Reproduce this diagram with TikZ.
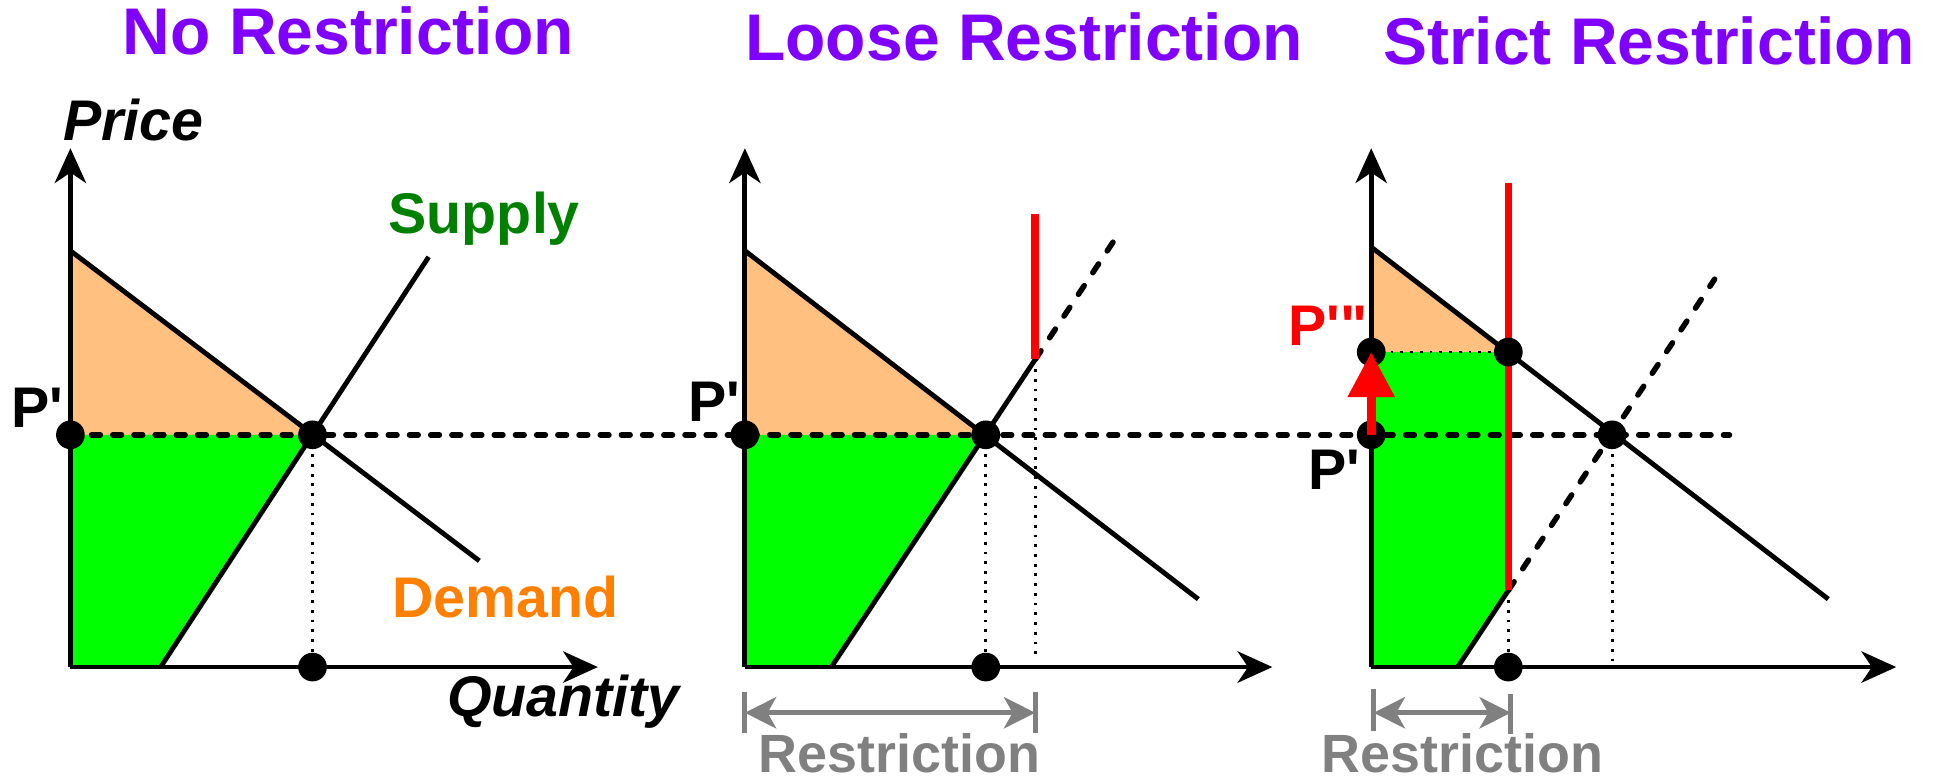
\documentclass[tikz,border=0pt]{standalone}
\usepackage{fontspec}
\setmainfont{Liberation Sans}
\usetikzlibrary{arrows.meta,positioning,calc}
\definecolor{titlepurple}{RGB}{128,0,255}
\definecolor{supplygreen}{RGB}{0,128,0}
\definecolor{demandorange}{RGB}{255,128,0}
\definecolor{consorange}{RGB}{255,192,128}
\definecolor{prodgreen}{RGB}{0,255,0}
\definecolor{restrictgray}{RGB}{128,128,128}

\begin{document}
\begin{tikzpicture}[
        x=0.0125cm, y=-0.0125cm,
        title/.style={text=titlepurple, font=\fontsize{19}{22}\selectfont\bfseries},
        axislabel/.style={font=\fontsize{16.5}{19}\selectfont\bfseries\itshape},
        curvelabel/.style={font=\fontsize{16.5}{19}\selectfont\bfseries},
        plabel/.style={font=\fontsize{16.5}{19}\selectfont\bfseries},
        restrlabel/.style={text=restrictgray, font=\fontsize{15.5}{18}\selectfont\bfseries},
        axisline/.style={line width=1.4pt, -{Stealth[length=10pt, width=9pt, inset=3pt]}},
        curve/.style={line width=1.4pt},
        dashcurve/.style={curve, line width=1.6pt, dash pattern=on 3pt off 4.5pt, line cap=round},
        priceline/.style={line width=1.6pt, dash pattern=on 2.5pt off 3.6pt, line cap=round},
        guide/.style={line width=0.8pt, dotted},
        limit/.style={line width=2.2pt, red},
        dot/.style={circle, fill=black, inner sep=0pt, minimum size=0.29cm},
        consfill/.style={fill=consorange},
        prodfill/.style={fill=prodgreen},
        bracket/.style={line width=1.4pt, restrictgray},
        spanarrow/.style={bracket, {Stealth[length=9pt, width=9pt, inset=2.5pt]}-{Stealth[length=9pt, width=9pt, inset=2.5pt]}},
        raise/.style={red, line width=2.6pt, -{Triangle[length=13pt, width=13pt]}}
    ]

        \useasboundingbox (0,0) rectangle (1568,632);

% --- Titles ---
        \node[title] (title1) at (282,25) {No Restriction};
        \node[title] (title2) at (829,30) {Loose Restriction};
        \node[title] (title3) at (1335,33) {Strict Restriction};

% --- Points (no restriction) ---
        \coordinate (o1) at (57,540);
        \coordinate (ytop1) at (57,120);
        \coordinate (xend1) at (484,540);
        \coordinate (dtop1) at (57,203);
        \coordinate (dend1) at (388,454);
        \coordinate (sbot1) at (130,540);
        \coordinate (send1) at (347,208);
        \coordinate (eq1) at (253,352);
        \coordinate (pp1) at (57,352);
        \coordinate (qq1) at (253,540);

% --- Points (loose restriction) ---
        \coordinate (o2) at (603,540);
        \coordinate (ytop2) at (603,120);
        \coordinate (xend2) at (1030,540);
        \coordinate (dtop2) at (603,203);
        \coordinate (dend2) at (970,485);
        \coordinate (sbot2) at (673,540);
        \coordinate (skink2) at (838,291);
        \coordinate (send2) at (905,190);
        \coordinate (limtop2) at (838,173);
        \coordinate (limbot2) at (838,532);
        \coordinate (eq2) at (798,352);
        \coordinate (pp2) at (603,352);
        \coordinate (qq2) at (798,540);

% --- Points (strict restriction) ---
        \coordinate (o3) at (1110,540);
        \coordinate (ytop3) at (1110,120);
        \coordinate (xend3) at (1535,540);
        \coordinate (dtop3) at (1110,200);
        \coordinate (dend3) at (1480,485);
        \coordinate (dq3) at (1221,285);
        \coordinate (sbot3) at (1180,540);
        \coordinate (skink3) at (1221,478);
        \coordinate (send3) at (1388,226);
        \coordinate (limtop3) at (1221,148);
        \coordinate (eq3) at (1305,352);
        \coordinate (pp3) at (1110,352);
        \coordinate (ppp3) at (1110,285);
        \coordinate (qq3) at (1221,540);
        \coordinate (qe3) at (1305,540);
        \coordinate (pend) at (1400,352);

% --- Surplus areas ---
        \fill[consfill] (dtop1) -- (eq1) -- (pp1) -- cycle;
        \fill[prodfill] (pp1) -- (eq1) -- (sbot1) -- (o1) -- cycle;
        \fill[consfill] (dtop2) -- (eq2) -- (pp2) -- cycle;
        \fill[prodfill] (pp2) -- (eq2) -- (sbot2) -- (o2) -- cycle;
        \fill[consfill] (dtop3) -- (dq3) -- (ppp3) -- cycle;
        \fill[prodfill] (ppp3) -- (dq3) -- (skink3) -- (sbot3) -- (o3) -- cycle;

% --- Guides ---
        \draw[priceline] (pp1) -- (pend);
        \draw[guide] (eq1) -- (qq1);
        \draw[guide] (eq2) -- (qq2);
        \draw[guide] (skink2) -- (limbot2);
        \draw[guide] (ppp3) -- (dq3);
        \draw[guide] (skink3) -- (qq3);
        \draw[guide] (eq3) -- (qe3);

% --- Curves ---
        \draw[curve] (dtop1) -- (dend1);
        \draw[curve] (sbot1) -- (send1);
        \draw[curve] (dtop2) -- (dend2);
        \draw[curve] (sbot2) -- (skink2);
        \draw[dashcurve] (skink2) -- (send2);
        \draw[curve] (dtop3) -- (dend3);
        \draw[curve] (sbot3) -- (skink3);
        \draw[dashcurve] (skink3) -- (send3);
        \draw[limit] (limtop2) -- (skink2);
        \draw[limit] (limtop3) -- (skink3);

% --- Axes ---
        \draw[axisline] (o1) -- (ytop1);
        \draw[axisline] (o1) -- (xend1);
        \draw[axisline] (o2) -- (ytop2);
        \draw[axisline] (o2) -- (xend2);
        \draw[axisline] (o3) -- (ytop3);
        \draw[axisline] (o3) -- (xend3);

% --- Dots ---
        \node[dot] (E1) at (eq1) {};
        \node[dot] (P1) at (pp1) {};
        \node[dot] (Q1) at (qq1) {};
        \node[dot] (E2) at (eq2) {};
        \node[dot] (P2) at (pp2) {};
        \node[dot] (Q2) at (qq2) {};
        \node[dot] (E3) at (eq3) {};
        \node[dot] (D3) at (dq3) {};
        \node[dot] (P3) at (pp3) {};
        \node[dot] (PP3) at (ppp3) {};
        \node[dot] (Q3) at (qq3) {};

% --- Price jump ---
        \draw[raise] (P3.center) -- (PP3.center);

% --- Labels ---
        \node[axislabel] (price) at (108,97) {Price};
        \node[axislabel] (quantity) at (456,568) {Quantity};
        \node[curvelabel, text=supplygreen] (supply) at (392,177) {Supply};
        \node[curvelabel, text=demandorange] (demand) at (409,483) {Demand};
        \node[plabel] (plab1) at (30,330) {P\textquotesingle};
        \node[plabel] (plab2) at (578,325) {P\textquotesingle};
        \node[plabel] (plab3) at (1080,380) {P\textquotesingle};
        \node[plabel, text=red] (pplab3) at (1075,264) {P\textquotesingle\textquotedbl};

% --- Restriction spans ---
        \draw[bracket] (603,560) coordinate (rl2) -- (603,593);
        \draw[bracket] (838,560) coordinate (rr2) -- (838,593);
        \draw[spanarrow] ($(rl2)+(0,17)$) -- ($(rr2)+(0,17)$);
        \node[restrlabel] (restr2) at (728,610) {Restriction};
        \draw[bracket] (1112,558) coordinate (rl3) -- (1112,592);
        \draw[bracket] (1223,562) coordinate (rr3) -- (1223,594);
        \draw[spanarrow] ($(rl3)+(0,19)$) -- ($(rr3)+(0,15)$);
        \node[restrlabel] (restr3) at (1184,610) {Restriction};

    \end{tikzpicture}
\end{document}
